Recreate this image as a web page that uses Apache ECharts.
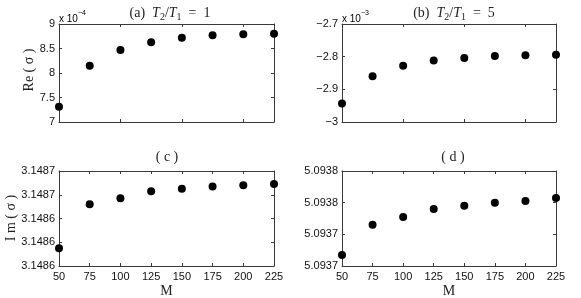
<!DOCTYPE html>
<html><head><meta charset="utf-8">
<script src="https://cdn.jsdelivr.net/npm/echarts@6/dist/echarts.min.js"></script>
<style>html,body{margin:0;padding:0;background:#fff}#c{width:581px;height:298px}</style>
</head><body><div id="c"></div>
<script>
// Data
const mValues = [50, 75, 100, 125, 150, 175, 200, 225];
const reSigmaT1 = [7.31, 8.15, 8.47, 8.63, 8.72, 8.77, 8.79, 8.80];          // x 10^-4
const reSigmaT5 = [-2.943, -2.860, -2.828, -2.812, -2.804, -2.798, -2.796, -2.794]; // x 10^-3
const imSigmaT1 = [3.148615, 3.148652, 3.148657, 3.148663, 3.148665, 3.148667, 3.148668, 3.148669];
const imSigmaT5 = [5.093727, 5.093746, 5.093751, 5.093756, 5.093758, 5.093760, 5.093761, 5.093763];

const chart = echarts.init(document.getElementById('c'), null, {renderer: 'canvas'});
const SANS = 'Liberation Sans';
const SERIF = 'Liberation Serif';
const LINE = '#3a3a3a';

const grids = [
  {left: 59, top: 24, width: 215, height: 98},
  {left: 342, top: 24, width: 214, height: 98},
  {left: 59, top: 171, width: 215, height: 95},
  {left: 342, top: 171, width: 214, height: 95}
];
const yDefs = [
  {min: 7, max: 9, interval: 0.5, fmt: v => String(+v.toFixed(1))},
  {min: -3, max: -2.7, interval: 0.1, fmt: v => String(+v.toFixed(1)).replace('-', '\u2212')},
  {min: 3.1486, max: 3.14868, interval: 0.00002, fmt: v => v.toFixed(4)},
  {min: 5.09372, max: 5.09378, interval: 0.00002, fmt: v => v.toFixed(4)}
];
const seriesData = [reSigmaT1, reSigmaT5, imSigmaT1, imSigmaT5];

const xAxis = [], yAxis = [], series = [];
grids.forEach((g, i) => {
  const bottomRow = i >= 2;
  const xBase = {
    type: 'value', gridIndex: i, min: 50, max: 225, interval: bottomRow ? 25 : 50,
    axisLine: {show: true, lineStyle: {color: LINE, width: 1}},
    axisTick: {show: true, inside: true, length: 3, lineStyle: {color: LINE}},
    splitLine: {show: false}
  };
  xAxis.push(Object.assign({}, xBase, {
    position: 'bottom',
    axisLabel: {show: bottomRow, margin: 5, color: '#111', fontFamily: SANS, fontSize: 11,
      showMinLabel: true, showMaxLabel: true}
  }));
  xAxis.push(Object.assign({}, xBase, {position: 'top', axisLabel: {show: false}}));
  const yd = yDefs[i];
  const yBase = {
    type: 'value', gridIndex: i, min: yd.min, max: yd.max, interval: yd.interval,
    axisLine: {show: true, lineStyle: {color: LINE, width: 1}},
    axisTick: {show: true, inside: true, length: 3, lineStyle: {color: LINE}},
    splitLine: {show: false}
  };
  yAxis.push(Object.assign({}, yBase, {
    position: 'left',
    axisLabel: {show: true, margin: 4, color: '#111', fontFamily: SANS, fontSize: 11,
      formatter: yd.fmt, showMinLabel: true, showMaxLabel: true}
  }));
  yAxis.push(Object.assign({}, yBase, {position: 'right', axisLabel: {show: false}}));
  series.push({
    type: 'scatter', xAxisIndex: 2 * i, yAxisIndex: 2 * i,
    data: mValues.map((m, k) => [m, seriesData[i][k]]),
    symbol: 'circle', symbolSize: 8,
    itemStyle: {color: '#000', opacity: 1}, emphasis: {disabled: true}
  });
});

const titleRich = {
  r: {fontFamily: SERIF, fontSize: 14, color: '#222', lineHeight: 18},
  i: {fontFamily: SERIF, fontStyle: 'italic', fontSize: 14, color: '#222', lineHeight: 18},
  s: {fontFamily: SERIF, fontSize: 10, color: '#222', lineHeight: 6, verticalAlign: 'bottom'}
};
const expRich = {
  b: {fontFamily: SANS, fontSize: 10, color: '#111', lineHeight: 14, verticalAlign: 'bottom'},
  p: {fontFamily: SANS, fontSize: 7, color: '#111', lineHeight: 8, verticalAlign: 'top'}
};
function txt(x, y, text, rich, extra) {
  return Object.assign({
    type: 'text', x: x, y: y,
    style: {text: text, rich: rich, align: 'center', verticalAlign: 'middle',
      fontFamily: SERIF, fontSize: 14, fill: '#222'}
  }, extra || {});
}
const graphic = [
  txt(170, 13, '{r|(a)  }{i|T}{s|2}{r|/}{i|T}{s|1}{r|  =  1}', titleRich),
  txt(454, 13, '{r|(b)  }{i|T}{s|2}{r|/}{i|T}{s|1}{r|  =  5}', titleRich),
  txt(167, 157, '{r|( c )}', titleRich),
  txt(453, 157, '{r|( d )}', titleRich),
  {type: 'text', x: 59, y: 17, style: {text: '{b|x 10}{p|\u22124}', rich: expRich, align: 'left', verticalAlign: 'middle'}},
  {type: 'text', x: 342, y: 17, style: {text: '{b|x 10}{p|\u22123}', rich: expRich, align: 'left', verticalAlign: 'middle'}},
  txt(29, 70, 'Re ( \u03C3 )', null, {rotation: Math.PI / 2}),
  txt(11, 218, 'I m ( \u03C3 )', null, {rotation: Math.PI / 2}),
  txt(166.5, 291, 'M', null),
  txt(449, 291, 'M', null)
];

chart.setOption({
  animation: false,
  backgroundColor: '#fff',
  grid: grids.map(g => Object.assign({containLabel: false, show: false}, g)),
  xAxis: xAxis, yAxis: yAxis, series: series, graphic: graphic
});
</script></body></html>
